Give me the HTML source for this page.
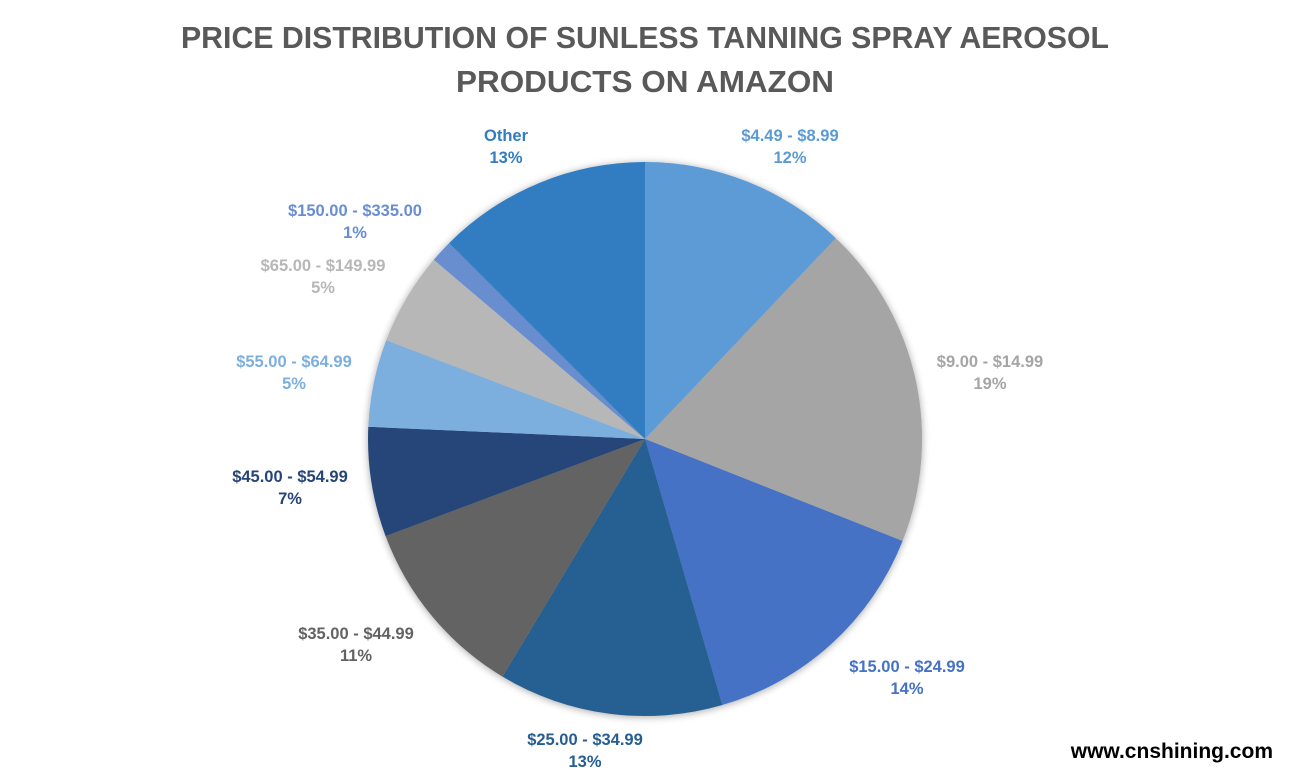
<!DOCTYPE html>
<html><head><meta charset="utf-8"><style>
html,body{margin:0;padding:0;background:#fff;}
svg{display:block;}
text{font-family:"Liberation Sans",sans-serif;font-weight:bold;}
</style></head><body>
<svg width="1290" height="774" viewBox="0 0 1290 774">
<defs><filter id="sh" x="-20%" y="-20%" width="140%" height="140%"><feGaussianBlur in="SourceAlpha" stdDeviation="4"/><feOffset dx="0" dy="1"/><feComponentTransfer><feFuncA type="linear" slope="0.35"/></feComponentTransfer><feMerge><feMergeNode/><feMergeNode in="SourceGraphic"/></feMerge></filter></defs>
<text x="645" y="48" font-size="31" fill="#595959" text-anchor="middle" textLength="928" lengthAdjust="spacingAndGlyphs">PRICE DISTRIBUTION OF SUNLESS TANNING SPRAY AEROSOL</text>
<text x="645" y="92" font-size="31" fill="#595959" text-anchor="middle" textLength="378" lengthAdjust="spacingAndGlyphs">PRODUCTS ON AMAZON</text>
<g filter="url(#sh)">
<path d="M645,439 L645,162 A277,277 0 0 1 835.9,238.2 Z" fill="#5B9BD5"/>
<path d="M645,439 L835.9,238.2 A277,277 0 0 1 902.6,541.0 Z" fill="#A5A5A5"/>
<path d="M645,439 L902.6,541.0 A277,277 0 0 1 722.3,705.0 Z" fill="#4472C4"/>
<path d="M645,439 L722.3,705.0 A277,277 0 0 1 502.5,676.6 Z" fill="#255E91"/>
<path d="M645,439 L502.5,676.6 A277,277 0 0 1 385.6,536.1 Z" fill="#636363"/>
<path d="M645,439 L385.6,536.1 A277,277 0 0 1 368.3,426.8 Z" fill="#264478"/>
<path d="M645,439 L368.3,426.8 A277,277 0 0 1 386.2,340.3 Z" fill="#7CAFDD"/>
<path d="M645,439 L386.2,340.3 A277,277 0 0 1 433.8,259.8 Z" fill="#B7B7B7"/>
<path d="M645,439 L433.8,259.8 A277,277 0 0 1 449.1,243.1 Z" fill="#698ED0"/>
<path d="M645,439 L449.1,243.1 A277,277 0 0 1 645,162 Z" fill="#327DC2"/>
</g>
<g font-size="16.5" text-anchor="middle">
<text x="506" y="141" fill="#327DC2">Other</text><text x="506" y="163" fill="#327DC2">13%</text>
<text x="790" y="141" fill="#5B9BD5">$4.49 - $8.99</text><text x="790" y="163" fill="#5B9BD5">12%</text>
<text x="355" y="216" fill="#698ED0">$150.00 - $335.00</text><text x="355" y="238" fill="#698ED0">1%</text>
<text x="323" y="271" fill="#B7B7B7">$65.00 - $149.99</text><text x="323" y="293" fill="#B7B7B7">5%</text>
<text x="294" y="367" fill="#7CAFDD">$55.00 - $64.99</text><text x="294" y="389" fill="#7CAFDD">5%</text>
<text x="290" y="482" fill="#264478">$45.00 - $54.99</text><text x="290" y="504" fill="#264478">7%</text>
<text x="990" y="367" fill="#A5A5A5">$9.00 - $14.99</text><text x="990" y="389" fill="#A5A5A5">19%</text>
<text x="356" y="639" fill="#636363">$35.00 - $44.99</text><text x="356" y="661" fill="#636363">11%</text>
<text x="907" y="672" fill="#4472C4">$15.00 - $24.99</text><text x="907" y="694" fill="#4472C4">14%</text>
<text x="585" y="745" fill="#255E91">$25.00 - $34.99</text><text x="585" y="767" fill="#255E91">13%</text>
</g>
<text x="1273" y="758" font-size="21" fill="#000" text-anchor="end">www.cnshining.com</text>
</svg>
</body></html>
